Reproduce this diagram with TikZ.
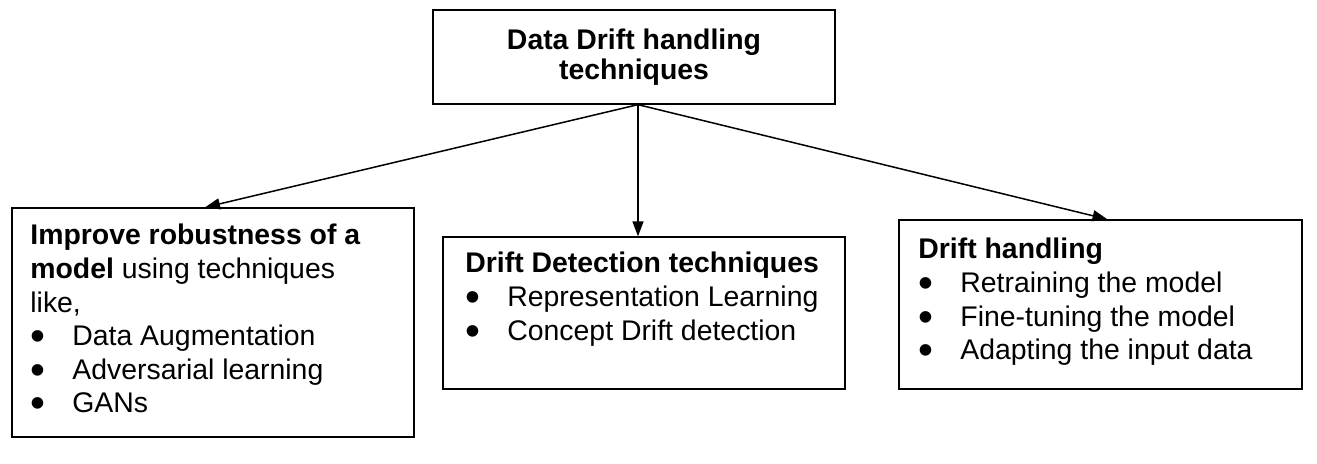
\documentclass[tikz,border=0pt]{standalone}
\usepackage{fontspec}
\setmainfont{Liberation Sans}
\usetikzlibrary{arrows.meta}

\newcommand{\bul}{\makebox[21pt][l]{\smash{\raisebox{-.17em}{\scalebox{1.5}{•}}}}}

\begin{document}
\begin{tikzpicture}[x=0.5pt, y=-0.5pt]
    \tikzstyle{box}=[draw=black, line width=0.65pt, inner sep=0pt]
    \tikzstyle{box text}=[inner sep=0pt, anchor=north west, align=left, font=\fontsize{14.2}{16.8}\selectfont]
    \tikzstyle{arr}=[line width=0.75pt, -{Triangle[length=7.5pt,width=5.5pt]}]

    \useasboundingbox (0,0) rectangle (1317,464);

    % Draw the top box
    \node[box, minimum width=201pt, minimum height=47pt, align=center,
          font=\fontsize{14.2}{15}\selectfont\bfseries] (top) at (634,57)
          {Data Drift handling\\techniques};

    % Draw the three lower boxes
    \node[box, minimum width=201pt, minimum height=114.5pt] (robust) at (213,322.5) {};
    \node[box, minimum width=201pt, minimum height=76pt] (detect) at (644,313) {};
    \node[box, minimum width=201.5pt, minimum height=84.5pt] (handle) at (1100.5,304.5) {};

    % Texts of the lower boxes
    \node[box text] (robust-txt) at (30,224)
          {\textbf{Improve robustness of a}\\\textbf{model} using techniques\\like,\\
           \bul Data Augmentation\\\bul Adversarial learning\\\bul GANs};
    \node[box text] (detect-txt) at (465,252)
          {\textbf{Drift Detection techniques}\\\bul Representation Learning\\\bul Concept Drift detection};
    \node[box text] (handle-txt) at (918,238)
          {\textbf{Drift handling}\\\bul Retraining the model\\\bul Fine-tuning the model\\\bul Adapting the input data};

    % Draw the arrows
    \coordinate (fork) at ([xshift=2pt]top.south);
    \draw[arr] (fork) -- ([xshift=-4pt]robust.north);
    \draw[arr] (fork) -- (fork |- detect.north);
    \draw[arr] (fork) -- ([xshift=3.5pt]handle.north);
\end{tikzpicture}
\end{document}
